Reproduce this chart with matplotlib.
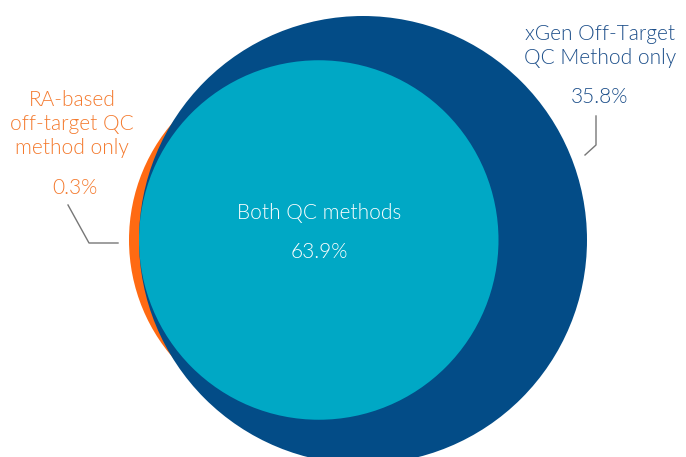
import numpy as np
import matplotlib.pyplot as plt
from matplotlib.patches import Circle

# venn data (percent of samples)
labels = ["RA-based\noff-target QC\nmethod only", "Both QC methods", "xGen Off-Target\nQC Method only"]
values = [0.3, 63.9, 35.8]
colors = ["#FF6A13", "#00A8C5", "#034C87"]
text_colors = ["#F47A2E", "#FFFFFF", "#1D4F8A"]

# set sizes -> radii proportional to sqrt(area)
ra_size = values[0] + values[1]
xgen_size = values[1] + values[2]
R = 224
r_xgen = R
r_ra = R * np.sqrt(ra_size / xgen_size)

plt.rcParams['font.family'] = ['Lato', 'DejaVu Sans']

fig = plt.figure(figsize=(6.86, 4.57), dpi=100)
ax = fig.add_axes([0, 0, 1, 1])
ax.set_xlim(0, 686)
ax.set_ylim(457, 0)
ax.set_aspect('equal')
ax.axis('off')

# circles: orange under blue, cyan (overlap) on top
ax.add_patch(Circle((129 + r_ra, 240), r_ra, color=colors[0], lw=0, zorder=1))
ax.add_patch(Circle((363, 240), r_xgen, color=colors[2], lw=0, zorder=2))
ax.add_patch(Circle((139 + r_ra, 240), r_ra, color=colors[1], lw=0, zorder=3))

fs = 15
w = 300
ax.text(72, 124, labels[0], ha='center', va='center', fontsize=fs, color=text_colors[0],
        linespacing=1.25, weight=w)
ax.text(75, 188, f"{values[0]}%", ha='center', va='center', fontsize=fs, color=text_colors[0], weight=w)

ax.text(319, 213, labels[1], ha='center', va='center', fontsize=fs, color=text_colors[1], zorder=5, weight=w)
ax.text(319, 252, f"{values[1]}%", ha='center', va='center', fontsize=fs, color=text_colors[1], zorder=5, weight=w)

ax.text(600, 46, labels[2], ha='center', va='center', fontsize=fs, color=text_colors[2],
        linespacing=1.25, weight=w)
ax.text(600, 97, f"{values[2]}%", ha='center', va='center', fontsize=fs, color=text_colors[2], weight=w)

# leader lines
ax.plot([68, 89, 118], [205, 243, 243], color='#777777', lw=1, zorder=4)
ax.plot([596, 596, 585], [116, 145, 155], color='#777777', lw=1, zorder=4)

fig.savefig('out.png', dpi=100)
